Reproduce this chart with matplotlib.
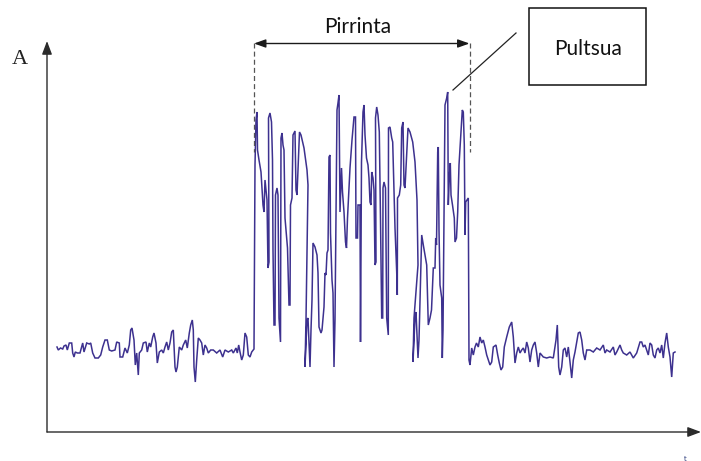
import numpy as np
import matplotlib
matplotlib.use("Agg")
import matplotlib.pyplot as plt
from matplotlib.patches import Rectangle

# ---- data (time in px from the A axis; level read as y-pixel from the top) ----
AXIS_X, AXIS_Y = 47, 432

left_x = [57, 58.3, 60.5, 62.7, 64, 66, 67.3, 69.3, 71.7, 72.7, 74, 75.3, 77.3, 80, 82.7, 84, 86.7, 89.3,
          90.7, 92.7, 95, 98.3, 100.7, 102.7, 105, 107.3, 109.3, 111.7, 115, 116.7, 119.3, 120, 122.7, 125,
          127.3, 129.3, 130.7, 132, 134, 135.3, 136.7, 138.3, 139.3, 141.7, 143.3, 146, 147.3, 149.3, 150.7,
          152.7, 154, 156, 157.3, 159.3, 161.7, 163.3, 165, 166.7, 168.3, 170, 171.7, 173.3, 175, 176, 177.3,
          179.3, 181.7, 183.3, 185.7, 187.3, 189.3, 190.7, 192.3, 193.3, 194, 195.3, 196.7, 198.3, 200, 201.7,
          203.3, 205, 206.7, 208.3, 210.7, 213.3, 216.7, 220, 222.7, 225, 228.3, 231.7, 233.3, 236, 237.3,
          238.7, 240, 241.7, 243.3, 245, 246.7, 248.3, 250, 251.7, 253.3]
left_y = [347, 350, 348, 349, 346, 345, 350, 343, 343, 353, 357, 352, 353, 353, 343, 352, 343, 344,
          343, 353, 358, 358, 355, 347, 340, 340, 350, 351, 350, 342, 343, 357, 357, 348,
          353, 345, 330, 328, 340, 365, 353, 375, 353, 350, 343, 342, 352, 343, 347,
          337, 333, 343, 363, 352, 350, 353, 347, 342, 350, 343, 332, 330, 367, 372, 367,
          347, 350, 345, 340, 348, 333, 325, 320, 330, 367, 382, 360, 338, 340, 343,
          355, 345, 348, 353, 350, 350, 353, 350, 357, 350, 352, 350, 353, 348, 353,
          345, 352, 360, 355, 333, 337, 355, 357, 352, 350]

burst_x = [254, 255, 256, 257, 257.5, 259, 261, 263, 264, 265, 266, 267, 268, 269, 268.5, 270, 271.5,
           272.5, 273, 274, 275, 275.5, 277, 278, 279, 280.5, 281, 282, 283, 284, 285, 287.5, 289, 290,
           290.5, 292, 293, 295, 296, 297, 299.5, 301, 304, 307, 308, 306, 305, 307, 308, 310, 311, 312,
           313, 315, 317, 318, 319, 321, 322, 324, 325, 326, 327, 328, 329, 330, 330.5, 332, 333, 334,
           335, 337, 338, 339, 340, 341.5, 342.5, 344, 345.5, 346.5, 347.5, 350, 352, 354, 355.5, 356,
           357.5, 358, 360, 360.5, 361.5, 363, 364, 365, 366.5, 368, 369, 370, 371, 371.7, 373, 374,
           375, 376, 375.5, 376.7, 378, 379.3, 380.5, 381.7, 382.7, 383, 384, 385.5, 386.7, 388.3,
           388.5, 390, 391.7, 392.7, 395, 396.7, 397.3, 397.5, 399.3, 400.7, 401.7, 403, 404, 405,
           408, 410, 412.7, 415, 417, 418, 414, 413, 415, 416, 418, 419, 420, 421.7, 423.3, 426.7,
           427.7, 428.3, 430, 431.5, 433.3, 435, 435.7, 436.5, 437.7, 438.3, 439, 440, 441.7, 442.3,
           443, 445, 446.7, 447.7, 448.3, 449.3, 450.3, 451, 452.5, 454.3, 455, 456.5, 457.7, 459,
           461, 462.3, 463.3, 464.3, 465, 465.7, 468.3, 469, 470, 471.7, 473.3, 475, 476.5, 478.3]
burst_y = [349, 165, 120, 112, 150, 160, 172, 205, 212, 180, 190, 200, 268, 262, 118, 113, 122,
           160, 250, 325, 325, 195, 188, 195, 318, 342, 138, 133, 145, 150, 218, 248, 305, 305,
           205, 198, 135, 131, 190, 195, 132, 135, 148, 170, 185, 320, 367, 320, 318, 367, 330, 300,
           243, 247, 255, 273, 327, 333, 330, 307, 273, 275, 253, 250, 157, 155, 233, 280, 293, 367,
           320, 110, 103, 95, 212, 168, 192, 212, 242, 248, 218, 168, 140, 117, 117, 238,
           238, 205, 205, 342, 162, 112, 105, 135, 158, 165, 178, 202, 205, 172, 178, 190,
           265, 262, 118, 107, 115, 132, 220, 318, 318, 188, 182, 188, 318, 335,
           128, 127, 138, 142, 228, 272, 295, 198, 195, 185, 128, 122, 185, 188,
           128, 132, 142, 162, 200, 265, 318, 362, 318, 312, 358, 340, 300, 235, 245, 265,
           305, 325, 318, 310, 268, 268, 238, 245, 152, 147, 230, 285, 298, 358,
           330, 105, 98, 92, 205, 178, 163, 195, 205, 218, 242, 238, 212, 165,
           132, 110, 112, 145, 235, 202, 198, 360, 365, 348, 355, 347, 343, 347]

right_x = [480, 481.7, 483.3, 485, 486.7, 490, 491.7, 493.3, 496, 497.7, 499.3, 501, 502.7, 504.3, 506.7,
           509.3, 511.7, 513.3, 515, 516.7, 518.3, 520, 521.7, 523.3, 525, 526.7, 528.3, 530, 531.7, 533.3,
           535, 536.7, 538.3, 540, 543.3, 546.7, 550, 553.3, 556, 557.3, 558.7, 560, 561.7, 563.3, 565,
           566.7, 568.3, 570, 571.7, 573.3, 575, 576.7, 578.3, 580, 581.7, 583.3, 585, 586.7, 590, 593.3,
           596.7, 600, 603.3, 605, 606.7, 610, 613.3, 615, 616.7, 620, 621.7, 623.3, 626.7, 630, 633.3,
           636.7, 640, 641.7, 643.3, 645, 646.7, 648.3, 650, 651.7, 653.3, 655, 656.7, 658.3, 660, 661.7,
           663.3, 665, 666.7, 668.3, 670, 671.7, 673.3, 675]
right_y = [337, 343, 340, 347, 355, 365, 362, 347, 345, 355, 363, 370, 367, 347, 337,
           327, 322, 337, 363, 353, 347, 353, 350, 348, 353, 342, 348, 362, 350, 345,
           342, 353, 367, 353, 357, 358, 357, 358, 340, 325, 367, 375, 367, 350, 348,
           357, 347, 362, 378, 360, 352, 342, 333, 332, 340, 353, 360, 350, 350, 352,
           348, 350, 345, 353, 350, 352, 347, 355, 352, 345, 350, 353, 355, 352, 358,
           353, 342, 342, 347, 345, 350, 355, 343, 345, 355, 358, 350, 348, 353, 345,
           358, 343, 333, 347, 357, 377, 353, 352]

burst_label = "Pirrinta"
pulse_label = "Pultsua"
y_label = "A"
x_label = "t"

# ---- build signal ----
tx = np.array(left_x + burst_x + right_x) - AXIS_X
amp = AXIS_Y - np.array(left_y + burst_y + right_y)

W, H = 701, 461
fig = plt.figure(figsize=(W / 100, H / 100), dpi=100)
ax = fig.add_axes([0, 0, 1, 1])
ax.set_xlim(-AXIS_X, W - AXIS_X)
ax.set_ylim(AXIS_Y - H, AXIS_Y)
ax.axis("off")

def P(x, y):
    """screen-pixel helper for decorations"""
    return (x - AXIS_X, AXIS_Y - y)

# signal
ax.plot(tx, amp, color="#3d318f", lw=1.1, solid_joinstyle="miter")

# axes with arrowheads
axc = "#2b2b2b"
ax.annotate("", xy=P(47, 41), xytext=P(47, 432),
            arrowprops=dict(arrowstyle="-|>,head_length=0.8,head_width=0.3", color=axc, lw=1.0,
                            shrinkA=0, shrinkB=0))
ax.annotate("", xy=P(701, 432), xytext=P(47, 432),
            arrowprops=dict(arrowstyle="-|>,head_length=0.8,head_width=0.3", color=axc, lw=1.0,
                            shrinkA=0, shrinkB=0))
ax.text(*P(20, 59), y_label, family="Liberation Serif", fontsize=16, color="#222222",
        ha="center", va="center")
ax.text(*P(685, 459), x_label, family="DejaVu Sans", fontsize=5, color="#2a3a7a",
        ha="center", va="center")

# burst extent: dashed limits + double arrow
for xx in (254, 469.5):
    ax.plot(*zip(P(xx, 43), P(xx, 152)), color="#555555", lw=0.9, ls=(0, (4, 2.5)))
ax.annotate("", xy=P(254, 43.5), xytext=P(469.5, 43.5),
            arrowprops=dict(arrowstyle="<|-|>,head_length=0.7,head_width=0.25", color="#1a1a1a",
                            lw=1.0, shrinkA=0, shrinkB=0))
ax.text(*P(358, 27), burst_label, family="Lato", fontsize=15, color="#111111",
        ha="center", va="center")

# pulse callout
ax.plot(*zip(P(453, 90), P(516, 33)), color="#222222", lw=0.9)
x0, y0 = P(529, 85)
ax.add_patch(Rectangle((x0, y0), 117, 77, fill=False, ec="#111111", lw=1.1))
ax.text(*P(588, 49), pulse_label, family="Lato", fontsize=15, color="#111111",
        ha="center", va="center")

fig.savefig("out.png", dpi=100, facecolor="white")
